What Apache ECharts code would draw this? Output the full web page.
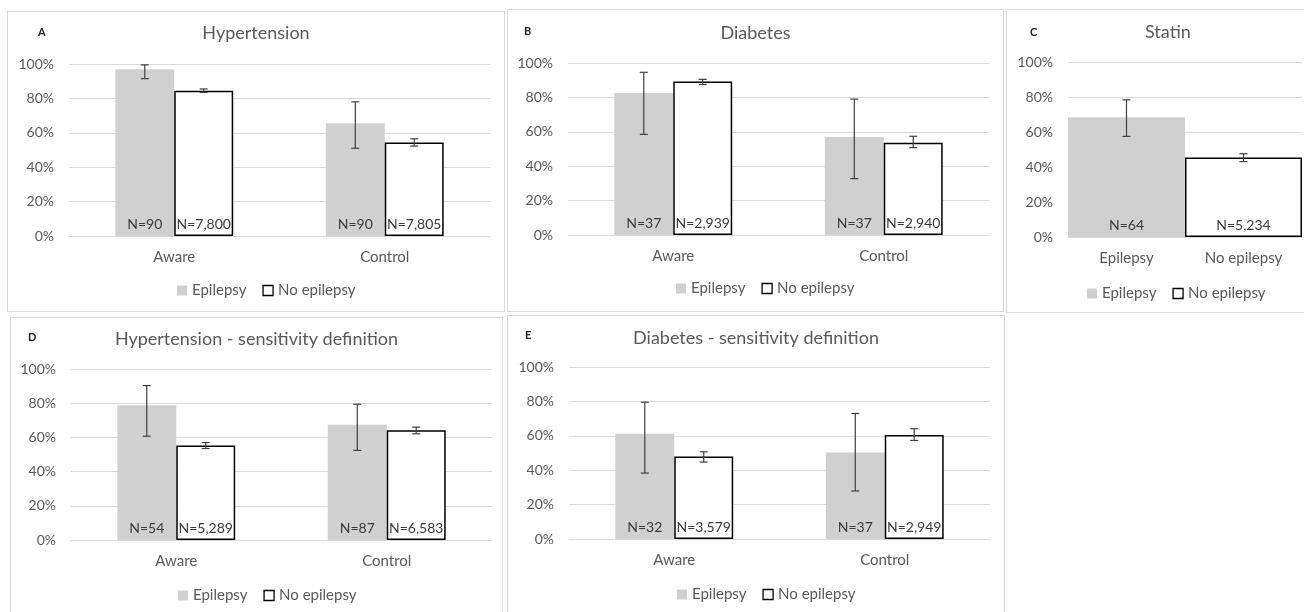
<!DOCTYPE html>
<html>
<head>
<meta charset="utf-8">
<script src="https://cdn.jsdelivr.net/npm/echarts@6/dist/echarts.min.js"></script>
<style>
  html, body { margin:0; padding:0; background:#fff; width:1304px; height:612px; overflow:hidden; position:relative; }
  .panel { position:absolute; border:1px solid #d9d9d9; box-sizing:border-box; background:#fff; }
</style>
</head>
<body>
<div id="pA" class="panel" style="left:7px;top:11px;width:498px;height:301px;"></div>
<div id="pB" class="panel" style="left:507px;top:9px;width:497px;height:303px;"></div>
<div id="pC" class="panel" style="left:1006px;top:9px;width:302px;height:304px;"></div>
<div id="pD" class="panel" style="left:10px;top:317px;width:493px;height:300px;"></div>
<div id="pE" class="panel" style="left:507px;top:315px;width:498px;height:300px;"></div>
<script>
// ---------- DATA ----------
const groupCats = ['Aware', 'Control'];
const statinCats = ['Epilepsy', 'No epilepsy'];
const seriesNames = ['Epilepsy', 'No epilepsy'];
const yTicks = [0, 20, 40, 60, 80, 100];

// A: Hypertension
const htnEpi = [97.0, 65.5];
const htnEpiLo = [91.5, 51.0];
const htnEpiHi = [99.5, 78.0];
const htnNo = [84.5, 54.3];
const htnNoLo = [83.5, 52.3];
const htnNoHi = [85.5, 56.5];
const htnEpiN = ['N=90', 'N=90'];
const htnNoN = ['N=7,800', 'N=7,805'];

// B: Diabetes
const dmEpi = [82.6, 57.0];
const dmEpiLo = [58.5, 32.8];
const dmEpiHi = [94.6, 79.0];
const dmNo = [89.2, 53.7];
const dmNoLo = [87.5, 50.8];
const dmNoHi = [90.5, 57.4];
const dmEpiN = ['N=37', 'N=37'];
const dmNoN = ['N=2,939', 'N=2,940'];

// C: Statin
const stEpi = [68.5];
const stEpiLo = [57.5];
const stEpiHi = [78.4];
const stNo = [45.4];
const stNoLo = [43.1];
const stNoHi = [47.6];
const stEpiN = ['N=64'];
const stNoN = ['N=5,234'];

// D: Hypertension - sensitivity definition
const htnsEpi = [78.8, 67.4];
const htnsEpiLo = [60.7, 52.4];
const htnsEpiHi = [90.3, 79.4];
const htnsNo = [55.3, 64.2];
const htnsNoLo = [53.5, 62.1];
const htnsNoHi = [57.0, 66.0];
const htnsEpiN = ['N=54', 'N=87'];
const htnsNoN = ['N=5,289', 'N=6,583'];

// E: Diabetes - sensitivity definition
const dmsEpi = [61.2, 50.3];
const dmsEpiLo = [38.3, 27.9];
const dmsEpiHi = [79.5, 73.0];
const dmsNo = [48.0, 60.4];
const dmsNoLo = [44.7, 57.3];
const dmsNoHi = [50.7, 64.1];
const dmsEpiN = ['N=32', 'N=37'];
const dmsNoN = ['N=3,579', 'N=2,949'];

// ---------- STYLE ----------
const FONT = 'Lato';
const TXT = '#595959';
const GRAY = '#d0d0d0';
const GAP_FRAC = 0.44;

function errRender(sign, stacked) {
  return function (params, api) {
    const x = api.value(0), lo = api.value(1), hi = api.value(2);
    const pLo = api.coord([x, lo]);
    const pHi = api.coord([x, hi]);
    const catW = api.size([1, 0])[0];
    const bw = stacked ? 0 : catW * (1 - GAP_FRAC) / 2;
    const cx = pLo[0] + sign * bw / 2;
    const cap = 4;
    const st = { stroke: '#404040', lineWidth: 1.2 };
    return {
      type: 'group',
      children: [
        { type: 'line', shape: { x1: cx, y1: pHi[1], x2: cx, y2: pLo[1] }, style: st },
        { type: 'line', shape: { x1: cx - cap, y1: pHi[1], x2: cx + cap, y2: pHi[1] }, style: st },
        { type: 'line', shape: { x1: cx - cap, y1: pLo[1], x2: cx + cap, y2: pLo[1] }, style: st }
      ]
    };
  };
}

function build(el, p) {
  const chart = echarts.init(document.getElementById(el));
  const stacked = !!p.stacked;
  let epiData, noData, epiErr, noErr;
  if (stacked) {
    epiData = [p.epi[0], '-'];
    noData = ['-', p.no[0]];
    epiErr = [[0, p.epiLo[0], p.epiHi[0]]];
    noErr = [[1, p.noLo[0], p.noHi[0]]];
  } else {
    epiData = p.epi.slice();
    noData = p.no.slice();
    epiErr = p.epi.map((v, i) => [i, p.epiLo[i], p.epiHi[i]]);
    noErr = p.no.map((v, i) => [i, p.noLo[i], p.noHi[i]]);
  }
  const labelBase = {
    show: true, position: 'insideBottom', distance: 5,
    fontFamily: FONT, fontSize: 14, color: '#3a3a3a'
  };
  chart.setOption({
    animation: false,
    textStyle: { fontFamily: FONT },
    title: [
      { text: p.title, left: p.titleLeft, top: p.titleTop,
        textStyle: { fontFamily: FONT, fontSize: 18, fontWeight: 'normal', color: TXT } },
      { text: p.letter, left: p.letterLeft, top: p.letterTop,
        textStyle: { fontFamily: FONT, fontSize: 11, fontWeight: 'bold', color: '#222' } }
    ],
    legend: {
      left: p.legendLeft, top: p.legendTop,
      itemWidth: 10, itemHeight: 10, itemGap: 16,
      textStyle: { fontFamily: FONT, fontSize: 15, color: TXT },
      data: [
        { name: seriesNames[0], icon: 'rect', itemStyle: { color: GRAY, borderWidth: 0 } },
        { name: seriesNames[1], icon: 'rect', itemStyle: { color: '#fff', borderColor: '#000', borderWidth: 1.3 } }
      ]
    },
    grid: p.grid,
    xAxis: {
      type: 'category', data: p.cats,
      axisLine: { lineStyle: { color: '#d9d9d9', width: 1 } },
      axisTick: { show: false },
      axisLabel: { fontFamily: FONT, fontSize: 15, color: TXT, margin: 14 }
    },
    yAxis: {
      type: 'value', min: yTicks[0], max: yTicks[yTicks.length - 1], interval: yTicks[1] - yTicks[0],
      axisLine: { show: false }, axisTick: { show: false },
      splitLine: { lineStyle: { color: '#d9d9d9', width: 1 } },
      axisLabel: { fontFamily: FONT, fontSize: 14, color: TXT, margin: 15, formatter: '{value}%' }
    },
    series: [
      {
        name: seriesNames[0], type: 'bar', data: epiData,
        stack: stacked ? 'one' : undefined,
        barGap: '0%', barCategoryGap: stacked ? '0%' : (GAP_FRAC * 100) + '%',
        itemStyle: { color: GRAY },
        label: Object.assign({}, labelBase, {
          formatter: (d) => stacked ? p.epiN[0] : p.epiN[d.dataIndex]
        })
      },
      {
        name: seriesNames[1], type: 'bar', data: noData,
        stack: stacked ? 'one' : undefined,
        barGap: '0%', barCategoryGap: stacked ? '0%' : (GAP_FRAC * 100) + '%',
        itemStyle: { color: '#fff', borderColor: '#000', borderWidth: 1.5 },
        label: Object.assign({}, labelBase, {
          formatter: (d) => stacked ? p.noN[0] : p.noN[d.dataIndex]
        })
      },
      { name: 'errEpi', type: 'custom', data: epiErr, z: 10, renderItem: errRender(-1, stacked) },
      { name: 'errNo', type: 'custom', data: noErr, z: 10, renderItem: errRender(1, stacked) }
    ]
  });
}

build('pA', {
  cats: groupCats, epi: htnEpi, epiLo: htnEpiLo, epiHi: htnEpiHi,
  no: htnNo, noLo: htnNoLo, noHi: htnNoHi, epiN: htnEpiN, noN: htnNoN,
  title: 'Hypertension', titleLeft: 'center', titleTop: 7,
  letter: 'A', letterLeft: 25, letterTop: 10,
  legendLeft: 164, legendTop: 266,
  grid: { left: 61, right: 14, top: 52, bottom: 75 }
});
build('pB', {
  cats: groupCats, epi: dmEpi, epiLo: dmEpiLo, epiHi: dmEpiHi,
  no: dmNo, noLo: dmNoLo, noHi: dmNoHi, epiN: dmEpiN, noN: dmNoN,
  title: 'Diabetes', titleLeft: 'center', titleTop: 9,
  letter: 'B', letterLeft: 11, letterTop: 11,
  legendLeft: 163, legendTop: 266,
  grid: { left: 60, right: 14, top: 53, bottom: 76 }
});
build('pC', {
  cats: statinCats, stacked: true, epi: stEpi, epiLo: stEpiLo, epiHi: stEpiHi,
  no: stNo, noLo: stNoLo, noHi: stNoHi, epiN: stEpiN, noN: stNoN,
  title: 'Statin', titleLeft: 133, titleTop: 8,
  letter: 'C', letterLeft: 18, letterTop: 12,
  legendLeft: 75, legendTop: 271,
  grid: { left: 61, right: 5, top: 52, bottom: 75 }
});
build('pD', {
  cats: groupCats, epi: htnsEpi, epiLo: htnsEpiLo, epiHi: htnsEpiHi,
  no: htnsNo, noLo: htnsNoLo, noHi: htnsNoHi, epiN: htnsEpiN, noN: htnsNoN,
  title: 'Hypertension - sensitivity definition', titleLeft: 'center', titleTop: 7,
  letter: 'D', letterLeft: 12, letterTop: 9,
  legendLeft: 162, legendTop: 265,
  grid: { left: 60, right: 10, top: 51, bottom: 76 }
});
build('pE', {
  cats: groupCats, epi: dmsEpi, epiLo: dmsEpiLo, epiHi: dmsEpiHi,
  no: dmsNo, noLo: dmsNoLo, noHi: dmsNoHi, epiN: dmsEpiN, noN: dmsNoN,
  title: 'Diabetes - sensitivity definition', titleLeft: 'center', titleTop: 8,
  letter: 'E', letterLeft: 12, letterTop: 9,
  legendLeft: 164, legendTop: 266,
  grid: { left: 61, right: 14, top: 51, bottom: 75 }
});
</script>
</body>
</html>
